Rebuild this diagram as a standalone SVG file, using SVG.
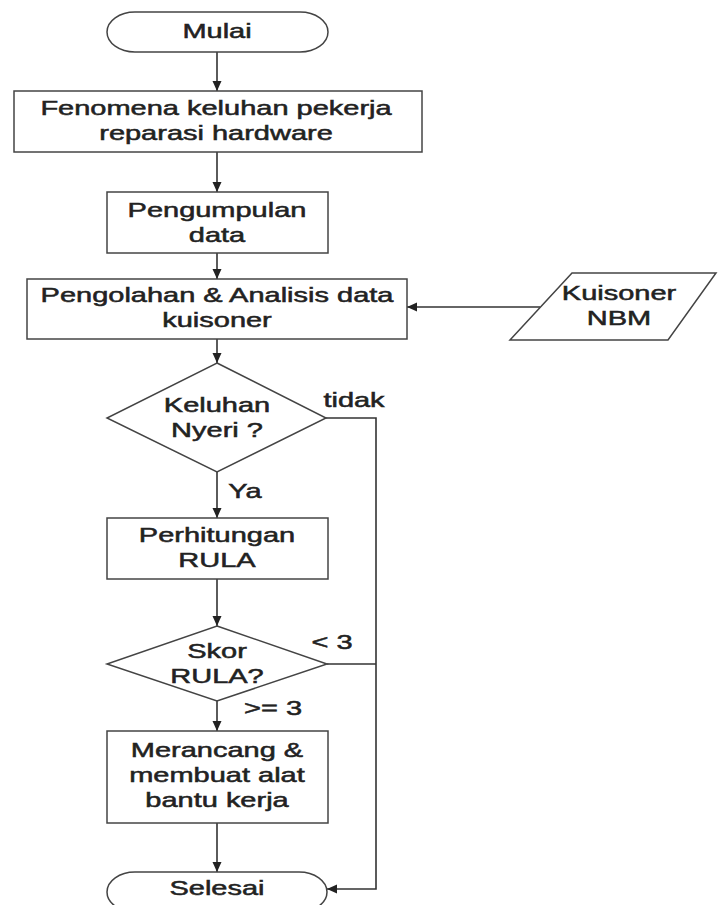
<svg xmlns="http://www.w3.org/2000/svg" width="718" height="905" viewBox="0 0 718 905">
<defs>
<marker id="ah" markerUnits="userSpaceOnUse" markerWidth="11" markerHeight="10" refX="10" refY="4.5" orient="auto">
<path d="M0,0 L10,4.5 L0,9 z" fill="#222"/>
</marker>
<style>
.s{fill:#fff;stroke:#444;stroke-width:1.5}
.c{fill:none;stroke:#333;stroke-width:1.6}
.t{font-family:"Liberation Sans",Arial,sans-serif;font-size:20px;fill:#222;stroke:#222;stroke-width:0.5;text-anchor:middle}
</style>
</defs>
<rect width="718" height="905" fill="#fff"/>
<g id="connectors">
<line class="c" x1="217" y1="52" x2="217" y2="91" marker-end="url(#ah)"/>
<line class="c" x1="217" y1="152" x2="217" y2="192" marker-end="url(#ah)"/>
<line class="c" x1="217" y1="253" x2="217" y2="279" marker-end="url(#ah)"/>
<line class="c" x1="217" y1="339" x2="217" y2="363" marker-end="url(#ah)"/>
<line class="c" x1="217" y1="472" x2="217" y2="518" marker-end="url(#ah)"/>
<line class="c" x1="217" y1="579" x2="217" y2="626" marker-end="url(#ah)"/>
<line class="c" x1="217" y1="701" x2="217" y2="731" marker-end="url(#ah)"/>
<line class="c" x1="217" y1="823" x2="217" y2="872" marker-end="url(#ah)"/>
<line class="c" x1="540" y1="307" x2="407" y2="307" marker-end="url(#ah)"/>
<polyline class="c" points="326,418 376,418 376,889 327,889" marker-end="url(#ah)"/>
<line class="c" x1="327" y1="664" x2="376" y2="664"/>
<text class="t" transform="translate(354 407) scale(1.45 1)">tidak</text>
<text class="t" transform="translate(245 498) scale(1.45 1)">Ya</text>
<text class="t" transform="translate(332 649) scale(1.45 1)">&lt; 3</text>
<text class="t" transform="translate(273 715) scale(1.45 1)">&gt;= 3</text>
</g>
<g id="mulai">
<rect class="s" x="107" y="12" width="221" height="40" rx="28" ry="20"/>
<text class="t" transform="translate(217 38) scale(1.45 1)">Mulai</text>
</g>
<g id="fenomena">
<rect class="s" x="14" y="91" width="408" height="61"/>
<text class="t" transform="translate(216 115) scale(1.45 1)">Fenomena keluhan pekerja</text>
<text class="t" transform="translate(216 140) scale(1.45 1)">reparasi hardware</text>
</g>
<g id="pengumpulan">
<rect class="s" x="107" y="192" width="221" height="61"/>
<text class="t" transform="translate(217 217) scale(1.45 1)">Pengumpulan</text>
<text class="t" transform="translate(217 242) scale(1.45 1)">data</text>
</g>
<g id="pengolahan">
<rect class="s" x="27" y="279" width="380" height="60"/>
<text class="t" transform="translate(217 302) scale(1.45 1)">Pengolahan &amp; Analisis data</text>
<text class="t" transform="translate(217 327) scale(1.45 1)">kuisoner</text>
</g>
<g id="kuisoner">
<polygon class="s" points="572,273 716,273 668,340 510,340"/>
<text class="t" transform="translate(619 300) scale(1.45 1)">Kuisoner</text>
<text class="t" transform="translate(619 325) scale(1.45 1)">NBM</text>
</g>
<g id="keluhan">
<polygon class="s" points="217,363 326,418 217,472 107,418"/>
<text class="t" transform="translate(217 412) scale(1.45 1)">Keluhan</text>
<text class="t" transform="translate(217 437) scale(1.45 1)">Nyeri ?</text>
</g>
<g id="perhitungan">
<rect class="s" x="107" y="518" width="221" height="61"/>
<text class="t" transform="translate(217 542) scale(1.45 1)">Perhitungan</text>
<text class="t" transform="translate(217 567) scale(1.45 1)">RULA</text>
</g>
<g id="skor">
<polygon class="s" points="217,626 327,664 217,701 107,664"/>
<text class="t" transform="translate(217 658) scale(1.45 1)">Skor</text>
<text class="t" transform="translate(217 683) scale(1.45 1)">RULA?</text>
</g>
<g id="merancang">
<rect class="s" x="107" y="731" width="221" height="92"/>
<text class="t" transform="translate(217 757) scale(1.45 1)">Merancang &amp;</text>
<text class="t" transform="translate(217 782) scale(1.45 1)">membuat alat</text>
<text class="t" transform="translate(217 807) scale(1.45 1)">bantu kerja</text>
</g>
<g id="selesai">
<rect class="s" x="107" y="872" width="220" height="40" rx="28" ry="20"/>
<text class="t" transform="translate(217 895) scale(1.45 1)">Selesai</text>
</g>
</svg>
